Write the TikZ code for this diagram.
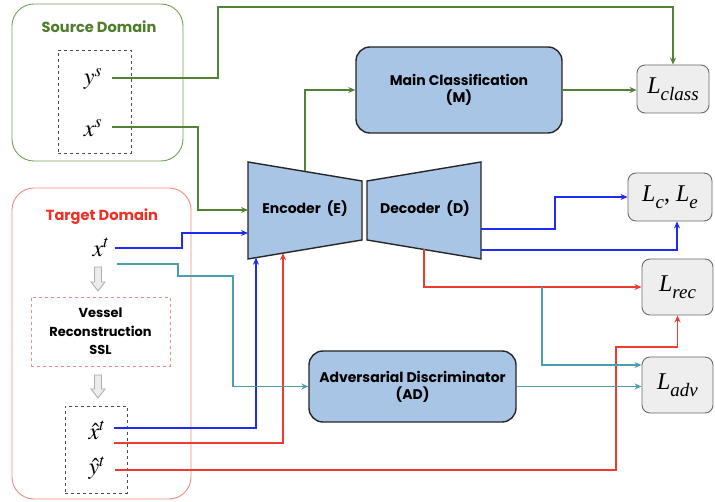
\documentclass[tikz,border=0pt]{standalone}
\usepackage{mathptmx}
\usepackage{fontspec}
\setmainfont{Liberation Serif}
\newfontfamily\popfont{Poppins}
\usetikzlibrary{arrows.meta,calc}
\definecolor{cgreen}{HTML}{548235}
\definecolor{cgreenbox}{HTML}{76A055}
\definecolor{cgreentxt}{HTML}{4E7D2C}
\definecolor{cred}{HTML}{EE3B2F}
\definecolor{credbox}{HTML}{F28B82}
\definecolor{credtxt}{HTML}{EE3124}
\definecolor{cblue}{HTML}{1E2BF5}
\definecolor{cteal}{HTML}{4A9FAE}
\definecolor{cfill}{HTML}{A8C5E6}
\definecolor{lossfill}{HTML}{EEEEEE}
\definecolor{lossdraw}{HTML}{6B6B6B}
\newcommand{\lossL}[1]{{\fontsize{24}{24}\selectfont\textit{L}}\raisebox{-7pt}{\fontsize{19}{19}\selectfont\textit{#1}}}
\newcommand{\losssep}{{\fontsize{24}{24}\selectfont,\ }}
\begin{document}
\begin{tikzpicture}[x=1pt,y=-1pt,
  domainbox/.style={draw, rounded corners=22pt, line width=0.9pt, inner sep=0},
  dashbox/.style={draw, dashed, line width=0.7pt, inner sep=0},
  var/.style={inner sep=0, font=\fontsize{24}{24}\selectfont},
  title/.style={font=\popfont\bfseries\fontsize{14.6}{17}\selectfont},
  blk/.style={draw=black!85, fill=cfill, line width=1.4pt, rounded corners=14pt, align=center,
     font=\popfont\bfseries\fontsize{14}{17}\selectfont, inner sep=0},
  trap/.style={draw=black!85, fill=cfill, line width=1.4pt},
  blktxt/.style={font=\popfont\bfseries\fontsize{14}{17}\selectfont},
  loss/.style={draw=lossdraw, fill=lossfill, line width=0.9pt, rounded corners=8pt, inner sep=0},
  conn/.style={line width=1.5pt, -{Stealth[length=7pt,width=6pt]}},
  gline/.style={conn, draw=cgreen, color=cgreen},
  bline/.style={conn, draw=cblue, color=cblue},
  rline/.style={conn, draw=cred, color=cred},
  tline/.style={conn, draw=cteal, color=cteal},
  garrow/.style={draw=gray!65, fill=gray!15, line width=0.8pt, line join=miter}
]
\useasboundingbox (0,0) rectangle (715,502);
\fill[white] (0,0) rectangle (715,502);

% Source domain
\node[domainbox, draw=cgreenbox, minimum width=171pt, minimum height=157pt] (src) at (97.5,82.5) {};
\node[title, text=cgreentxt] (srct) at (99,27) {Source Domain};
\node[dashbox, draw=black!70, minimum width=73pt, minimum height=103pt] (sdash) at (94.5,101.5) {};
\node[var] (ys) at (93,79) {$y^s$};
\node[var] (xs) at (93,128) {$x^s$};

% Target domain
\node[domainbox, draw=credbox, minimum width=179pt, minimum height=311pt] (tgt) at (101.5,343.5) {};
\node[title, text=credtxt] (tgtt) at (102,217) {Target Domain};
\node[var] (xt) at (101,247) {$x^t$};
\draw[garrow] (94.5,267) -- (101.5,267) -- (101.5,282) -- (105,282) -- (98,291) -- (91,282) -- (94.5,282) -- cycle;
\node[dashbox, draw=credbox, minimum width=139pt, minimum height=69pt, align=center,
  font=\popfont\bfseries\fontsize{13}{18.5}\selectfont] (ssl) at (100.5,331.5) {Vessel\\Reconstruction\\SSL};
\draw[garrow] (94.5,375) -- (101.5,375) -- (101.5,389) -- (105,389) -- (98,398) -- (91,389) -- (94.5,389) -- cycle;
\node[dashbox, draw=black!70, minimum width=62pt, minimum height=87pt] (tdash) at (96,449.5) {};
\node[var] (hxt) at (97,430) {$\hat{x}^t$};
\node[var] (hyt) at (97,468) {$\hat{y}^t$};

% Encoder / Decoder
\draw[trap] (248,162) coordinate (enc-tl) -- (362,181) coordinate (enc-tr) -- (362,240) coordinate (enc-br)
  -- (248,259) coordinate (enc-bl) -- cycle;
\node[blktxt] (enc) at (305,209) {Encoder~~(E)};
\draw[trap] (367,181) coordinate (dec-tl) -- (481,162) coordinate (dec-tr) -- (481,259) coordinate (dec-br)
  -- (367,240) coordinate (dec-bl) -- cycle;
\node[blktxt] (dec) at (425,209) {Decoder~~(D)};
\coordinate (dec-o1) at (481,229);
\coordinate (dec-o2) at (481,250);

% Blocks
\node[blk, minimum width=206pt, minimum height=86pt] (M) at (459,90) {Main Classification\\(M)};
\node[blk, minimum width=207pt, minimum height=71pt] (AD) at (412.5,386.5) {Adversarial Discriminator\\(AD)};

% Losses
\node[loss, minimum width=72pt, minimum height=48pt] (Lclass) at (673,89) {\lossL{class}};
\node[loss, minimum width=84pt, minimum height=48pt] (Lce) at (670,197) {\lossL{c}\losssep\lossL{e}};
\node[loss, minimum width=71pt, minimum height=56pt] (Lrec) at (677.5,287) {\lossL{rec}};
\node[loss, minimum width=71pt, minimum height=56pt] (Ladv) at (677.5,385) {\lossL{adv}};

% Green connectors
\draw[gline] ([xshift=10pt,yshift=1pt]ys.east) -| (218,7) -| (Lclass.north);
\draw[gline] ([xshift=10pt,yshift=1pt]xs.east) -| (198,210) -- (enc-tl |- 0,210);
\draw[gline] ($(enc-tl)!0.5!(enc-tr)$) |- (M.west);
\draw[gline] (M.east) -- (M.east -| Lclass.west);

% Blue connectors
\draw[bline] ([xshift=5pt,yshift=-1pt]xt.east) -- (182,248) |- (enc-tl |- 0,233);
\draw[bline] ([xshift=8pt,yshift=2pt]hxt.east) -| ($(enc-bl)!0.07!(enc-br)$);
\draw[bline] (dec-o1) -- (555,229) |- (Lce.west);
\draw[bline] (dec-o2) -| ([xshift=7pt]Lce.south);

% Red connectors
\draw[rline] ([xshift=8pt,yshift=-13pt]hxt.east) -| ($(enc-bl)!0.307!(enc-br)$);
\draw[rline] ($(dec-bl)!0.5!(dec-br)$) |- (Lrec.west);
\draw[rline] ([xshift=9pt,yshift=-2pt]hyt.east) -| (616,347) -| (Lrec.south);

% Teal connectors
\draw[tline] ([xshift=7pt,yshift=-17pt]xt.east) -- (178,264) |- (233,276) |- (AD.west);
\coordinate (br) at (542,287);
\draw[tline] (br) |- ([yshift=20pt]Ladv.west);
\draw[tline] (AD.east) -- (AD.east -| Ladv.west);
\end{tikzpicture}
\end{document}
